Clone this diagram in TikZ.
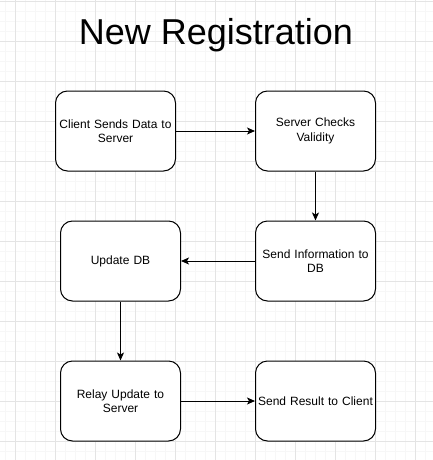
\documentclass[tikz,border=0pt]{standalone}
\usepackage{fontspec}
\setmainfont{Liberation Sans}
\usetikzlibrary{arrows.meta}
\definecolor{gridminor}{HTML}{F7F7F7}
\definecolor{gridmajor}{HTML}{E4E4E4}
\tikzset{
  stepbox/.style={draw=black, line width=1pt, rounded corners=12pt, minimum width=120pt, minimum height=80pt, inner sep=2pt, align=center, font=\fontsize{12pt}{14.5pt}\selectfont, text width=116pt, fill=white},
  flow/.style={draw=black, line width=1pt, -{Stealth[length=8pt,width=7pt,inset=2pt]}},
}
\begin{document}
\begin{tikzpicture}[x=1pt,y=-1pt]
\useasboundingbox (0,0) rectangle (433,460);
\fill[white] (0,0) rectangle (433,460);
% grid
\foreach \x in {5,15,...,433} \draw[gridminor, line width=0.8pt] (\x,0) -- (\x,460);
\foreach \y in {1,11,...,460} \draw[gridminor, line width=0.8pt] (0,\y) -- (433,\y);
\foreach \x in {15,55,...,433} \draw[gridmajor, line width=0.8pt] (\x,0) -- (\x,460);
\foreach \y in {1,41,...,460} \draw[gridmajor, line width=0.8pt] (0,\y) -- (433,\y);
% title
\node[font=\fontsize{36pt}{40pt}\selectfont, inner sep=0pt, anchor=base] (title) at (216,45) {New Registration};
% boxes
\node[stepbox] (client) at (115.5,131) {Client Sends Data to\\Server};
\node[stepbox] (check) at (315.5,131) {Server Checks\\Validity};
\node[stepbox] (send) at (315.5,261) {Send Information to\\DB};
\node[stepbox] (update) at (120.5,261) {Update DB};
\node[stepbox] (relay) at (120.5,401) {Relay Update to\\Server};
\node[stepbox] (result) at (315.5,401) {Send Result to Client};
% connectors
\draw[flow] (client) -- (check);
\draw[flow] (check) -- (send);
\draw[flow] (send) -- (update);
\draw[flow] (update) -- (relay);
\draw[flow] (relay) -- (result);
\end{tikzpicture}
\end{document}
